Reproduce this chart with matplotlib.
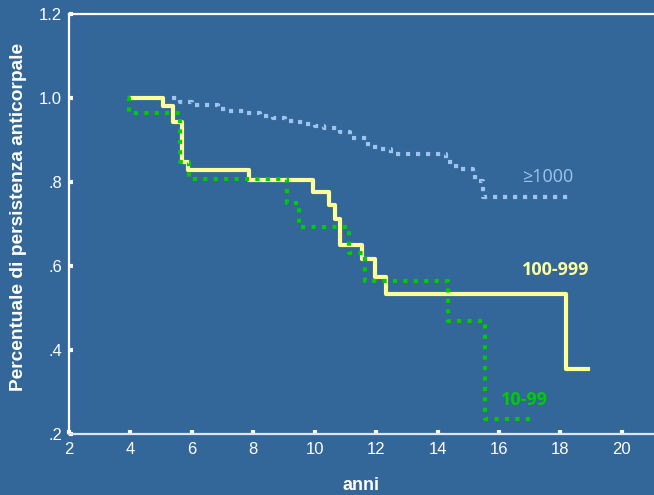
import matplotlib.pyplot as plt

# Curve di persistenza anticorpale per classe di titolo
anni_alto = [5.34, 5.61, 5.99, 6.86, 7.13, 7.78, 8.22, 8.65, 9.03, 9.41, 9.68, 10.0, 10.3,
             10.82, 11.15, 11.75, 12.07, 12.5, 14.27, 14.6, 15.16, 15.22, 15.48, 18.3]
pers_alto = [1.0, 0.991, 0.983, 0.975, 0.97, 0.964, 0.958, 0.952, 0.946, 0.944, 0.938, 0.934, 0.928,
             0.918, 0.904, 0.884, 0.878, 0.866, 0.848, 0.831, 0.825, 0.803, 0.765, 0.765]

anni_medio = [4.0, 5.05, 5.4, 5.67, 5.88, 7.86, 9.94, 10.46, 10.66, 10.82, 11.55, 11.96, 12.32, 18.18, 18.9]
pers_medio = [1.0, 0.98, 0.944, 0.848, 0.829, 0.805, 0.777, 0.745, 0.713, 0.65, 0.616, 0.575, 0.533, 0.355, 0.355]

anni_basso = [3.93, 3.94, 5.6, 5.92, 9.1, 9.5, 11.12, 11.64, 14.35, 15.54, 17.0]
pers_basso = [1.0, 0.964, 0.848, 0.807, 0.75, 0.694, 0.63, 0.564, 0.47, 0.235, 0.235]

xticks = [2, 4, 6, 8, 10, 12, 14, 16, 18, 20]
yticks = [0.2, 0.4, 0.6, 0.8, 1.0, 1.2]
ytick_labels = ['.2', '.4', '.6', '.8', '1.0', '1.2']

bg = '#336699'
plt.rcParams['font.family'] = ['Liberation Sans', 'DejaVu Sans']
etichette = ['Open Sans', 'DejaVu Sans']

fig = plt.figure(figsize=(6.54, 4.95), dpi=100, facecolor=bg)
ax = fig.add_axes([0.1055, 0.1232, 0.8945, 0.8485], facecolor=bg)

ax.step(anni_alto, pers_alto, where='post', color='#9cc4ee', lw=3.0,
        linestyle=(0, (1, 1.4)), dash_capstyle='butt')
ax.step(anni_basso, pers_basso, where='post', color='#00cc00', lw=3.0,
        linestyle=(0, (1, 1.5)), dash_capstyle='butt', zorder=3)
ax.step(anni_medio, pers_medio, where='post', color='#ffff99', lw=3.0, zorder=2)

ax.text(16.75, 0.812, '\u22651000', color='#9cc4ee', fontsize=13, family=etichette,
        ha='left', va='center')
ax.text(16.75, 0.59, '100-999', color='#ffff99', fontsize=13, fontweight='bold', family=etichette,
        ha='left', va='center')
ax.text(16.05, 0.281, '10-99', color='#00cc00', fontsize=13, fontweight='bold', family=etichette,
        ha='left', va='center')

ax.set_xlim(2, 21.05)
ax.set_ylim(0.2, 1.2)
ax.set_xticks(xticks)
ax.set_xticklabels([str(t) for t in xticks])
ax.set_yticks(yticks)
ax.set_yticklabels(ytick_labels)

for side in ['left', 'top', 'bottom']:
    ax.spines[side].set_color('white')
    ax.spines[side].set_linewidth(1.6)
ax.spines['bottom'].set_color('#dde6ee')
ax.spines['right'].set_visible(False)

ax.tick_params(axis='both', colors='white', labelsize=12, length=3, width=3, direction='in')
ax.tick_params(axis='x', pad=6)
ax.tick_params(axis='y', pad=5)

ax.set_xlabel('anni', color='white', fontsize=13, fontweight='bold', labelpad=14)
ax.set_ylabel('Percentuale di persistenza anticorpale', color='white', fontsize=13.8,
              fontweight='bold')
ax.yaxis.set_label_coords(-0.071, 0.518)

fig.savefig('out.png', dpi=100, facecolor=bg)
